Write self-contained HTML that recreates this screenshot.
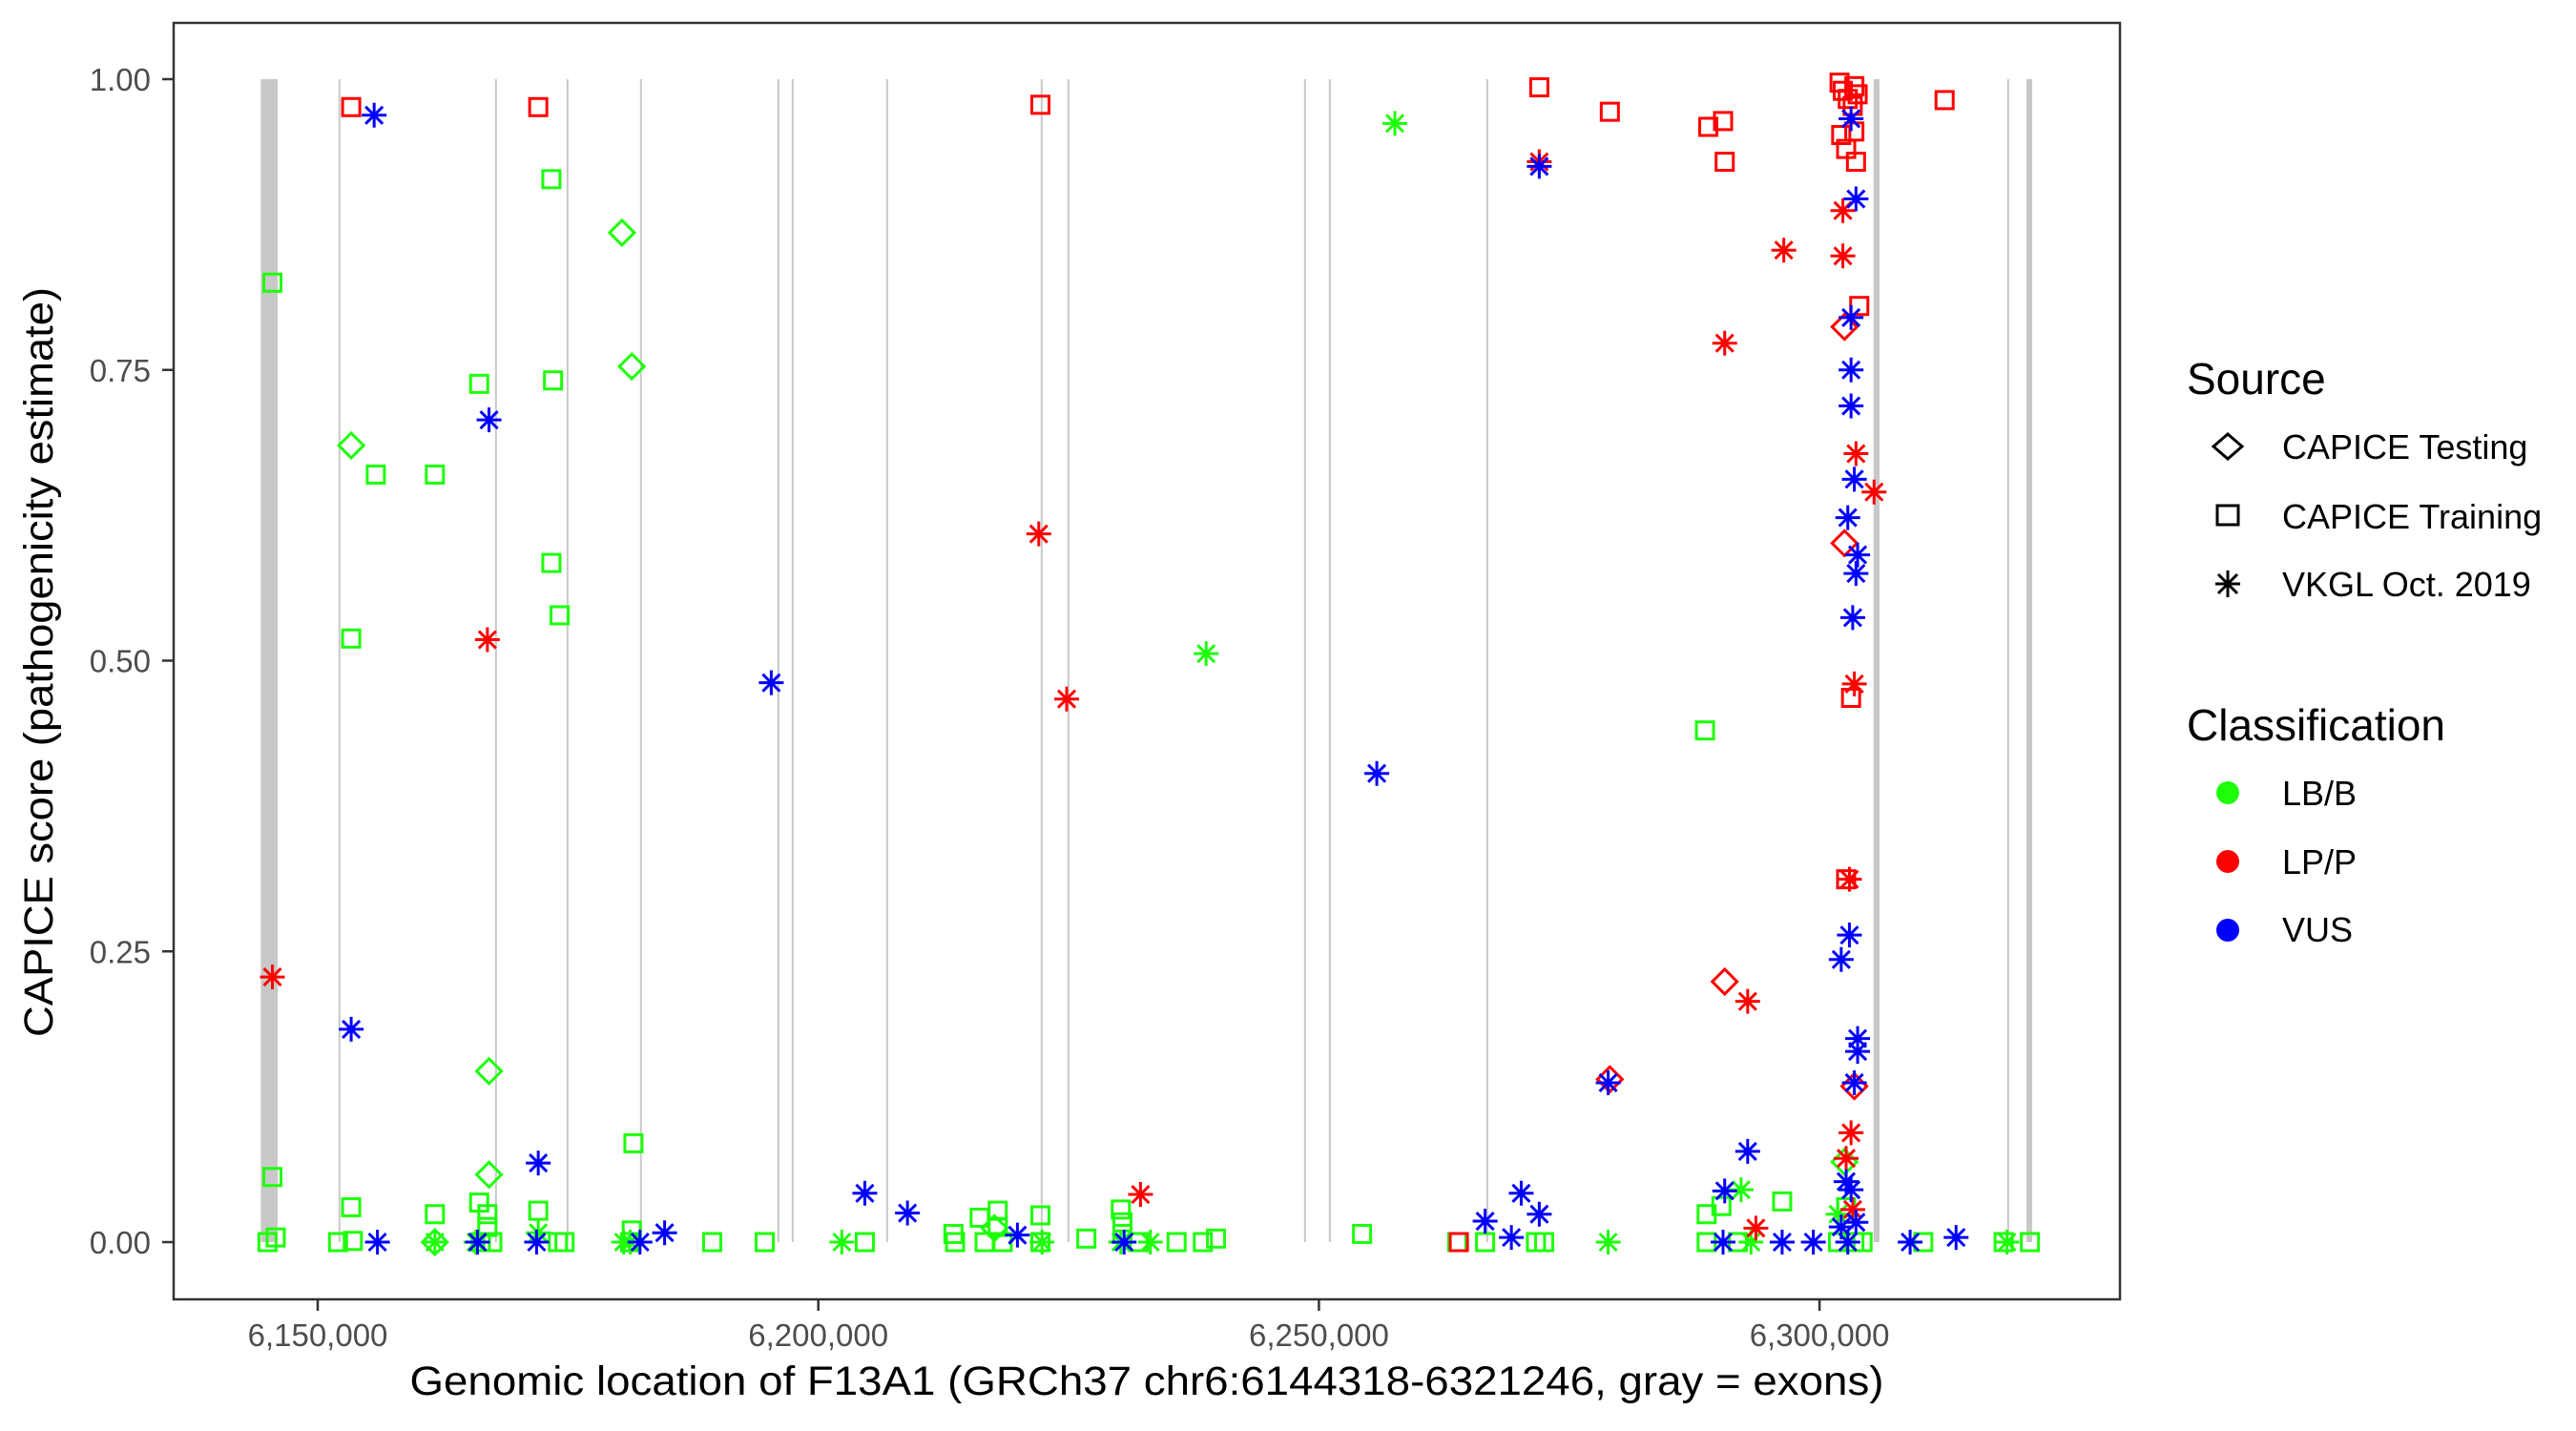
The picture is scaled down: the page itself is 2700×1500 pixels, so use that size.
<!DOCTYPE html>
<html><head><meta charset="utf-8">
<style>
html,body{margin:0;padding:0;background:#fff;}
svg{display:block;font-family:"Liberation Sans",Arial,sans-serif;}
</style></head>
<body>
<svg id="chart" xmlns="http://www.w3.org/2000/svg" width="2700" height="1500" viewBox="0 0 2700 1500">
<rect x="0" y="0" width="2700" height="1500" fill="#fff"/>
<g id="exons"></g>
<g id="points"></g>
<rect x="182" y="24" width="2040" height="1338" fill="none" stroke="#333" stroke-width="2.5"/>
<g id="axes"></g>
<text x="1202" y="1462" font-size="43" text-anchor="middle" textLength="1545" lengthAdjust="spacingAndGlyphs">Genomic location of F13A1 (GRCh37 chr6:6144318-6321246, gray = exons)</text>
<text x="0" y="0" font-size="43" text-anchor="middle" textLength="786" lengthAdjust="spacingAndGlyphs" transform="translate(55,694) rotate(-90)">CAPICE score (pathogenicity estimate)</text>
<g transform="translate(-14,0)">
<text x="2306" y="413" font-size="46">Source</text>
<path d="M2349 455 L2364 468 L2349 481 L2334 468 Z" fill="none" stroke="#000" stroke-width="3"/>
<text x="2406" y="481" font-size="36">CAPICE Testing</text>
<rect x="2338" y="530" width="22" height="20" fill="none" stroke="#000" stroke-width="3"/>
<text x="2406" y="554" font-size="36">CAPICE Training</text>
<g stroke="#000" stroke-width="3"><line x1="2349" y1="598" x2="2349" y2="626"/><line x1="2336" y1="612" x2="2362" y2="612"/><line x1="2339" y1="602" x2="2359" y2="622"/><line x1="2359" y1="602" x2="2339" y2="622"/></g>
<text x="2406" y="625" font-size="36">VKGL Oct. 2019</text>
<text x="2306" y="776" font-size="46">Classification</text>
<circle cx="2349" cy="831" r="12" fill="#1EFF0A"/>
<text x="2406" y="844" font-size="36">LB/B</text>
<circle cx="2349" cy="903" r="12" fill="#FF0000"/>
<text x="2406" y="916" font-size="36">LP/P</text>
<circle cx="2349" cy="975" r="12" fill="#0000FF"/>
<text x="2406" y="987" font-size="36">VUS</text>
</g>
</svg>
<script>
// ---- data ----
const exonStarts = [6144318, 6152150, 6167780, 6174930, 6182260, 6195990, 6197420, 6206850, 6222290, 6224950, 6248590, 6251070, 6266790, 6305400, 6318820, 6320660];
const exonEnds   = [6146000, 6152200, 6167830, 6174980, 6182310, 6196030, 6197460, 6206890, 6222330, 6225000, 6248630, 6251110, 6266830, 6305990, 6318860, 6321246];
const xTicks = [6150000, 6200000, 6250000, 6300000];
const xTickLabels = ["6,150,000", "6,200,000", "6,250,000", "6,300,000"];
const yTicks = [0, 0.25, 0.5, 0.75, 1.0];
const yTickLabels = ["0.00", "0.25", "0.50", "0.75", "1.00"];

// CAPICE Training (squares)
const trainLBpos = [6145476,6145476,6144985,6145808,6153344,6153344,6152032,6153507,6155802,6161702,6161702,6166128,6166128,6166947,6166947,6166292,6167439,6173339,6173503,6173339,6174159,6172028,6174650,6173995,6181535,6181371,6181207,6189402,6194647,6204645,6213495,6213659,6216118,6217921,6217921,6216610,6218413,6222183,6222183,6226772,6230214,6230378,6230378,6232017,6235787,6238410,6239721,6254308,6263814,6266600,6271681,6272501,6288563,6288727,6290202,6288727,6291841,6296267,6301840,6302659,6303479,6304299,6310363,6318394,6321017];
const trainLBscore = [0.825,0.056,0,0.004,0.519,0.03,0,0.001,0.66,0.66,0.024,0.738,0.034,0.024,0.013,0,0,0.914,0.741,0.584,0.539,0.027,0,0,0.085,0.01,0,0,0,0,0.007,0,0.021,0.027,0.013,0,0,0.023,0,0.003,0.028,0.017,0.007,0,0,0,0.003,0.007,0,0,0,0,0.44,0.024,0.031,0,0,0.035,0,0.03,0,0,0,0,0];
const trainLPpos = [6153344,6172028,6222183,6272009,6279057,6288891,6290366,6290530,6312494,6302004,6302332,6302823,6303315,6303479,6303807,6302168,6302659,6303643,6303479,6303971,6303151,6302659,6263978];
const trainLPscore = [0.976,0.976,0.978,0.993,0.972,0.959,0.964,0.929,0.982,0.997,0.99,0.983,0.977,0.994,0.987,0.952,0.94,0.929,0.955,0.805,0.468,0.312,0];
const trainVUSpos = [];
const trainVUSscore = [];

// CAPICE Testing (diamonds)
const testLBpos = [6153344,6180387,6181371,6167111,6167111,6161702,6217593,6302495];
const testLBscore = [0.685,0.868,0.753,0.147,0.058,0,0.012,0.069];
const testLPpos = [6302495,6302495,6290530,6279057,6303479];
const testLPscore = [0.787,0.601,0.224,0.14,0.134];

// VKGL Oct. 2019 (stars)
const vkglLBpos = [6257586,6238737,6202350,6181207,6161702,6165800,6172028,6180551,6222347,6230214,6233165,6278893,6292169,6293153,6301840,6302823,6318722];
const vkglLBscore = [0.962,0.506,0,0,0,0,0.008,0,0,0,0,0,0.045,0,0.024,0,0];
const vkglLPpos = [6145476,6166947,6222019,6224805,6272009,6290530,6296431,6302332,6302332,6303643,6305446,6303479,6292825,6302987,6303151,6302659,6232181,6293645,6303315];
const vkglLPscore = [0.228,0.518,0.609,0.467,0.929,0.773,0.853,0.848,0.887,0.678,0.645,0.48,0.207,0.312,0.094,0.072,0.041,0.012,0.028];
const vkglVUSpos = [6155638,6153344,6167111,6172028,6195302,6204645,6208906,6255783,6272009,6278893,6303151,6303643,6303151,6303151,6303151,6303479,6302823,6303807,6303643,6303315,6302168,6302987,6303807,6303807,6303479,6292825,6290530,6266600,6270206,6272009,6302659,6303151,6303643,6302168,6155966,6165964,6171864,6182190,6184649,6219888,6230542,6269223,6290366,6296267,6299381,6302823,6309052,6313641];
const vkglVUSscore = [0.969,0.183,0.707,0.068,0.481,0.042,0.025,0.403,0.925,0.137,0.966,0.897,0.795,0.75,0.719,0.656,0.623,0.591,0.575,0.537,0.243,0.264,0.175,0.164,0.137,0.078,0.044,0.018,0.042,0.024,0.052,0.045,0.017,0.013,0,0,0,0,0.008,0.006,0,0.004,0,0,0,0,0,0.004];

// ---- scales ----
const X0 = 333, PXPB = 524.7/50000;
function xs(v){ return X0 + (v - 6150000) * PXPB; }
function ys(v){ return 1302 - v * 1219; }
const NS = "http://www.w3.org/2000/svg";
function mk(tag, attrs, parent){ const e=document.createElementNS(NS,tag); for(const k in attrs) e.setAttribute(k, attrs[k]); parent.appendChild(e); return e; }

// exons
const exG = document.getElementById('exons');
for(let i=0;i<exonStarts.length;i++){
  const a = xs(exonStarts[i]), b = xs(exonEnds[i]);
  const w = Math.max(2, b - a);
  const r = mk('rect', {x: (a+b)/2 - w/2, y: ys(1), width: w, height: ys(0)-ys(1), fill: '#c8c8c8'}, exG);
  
  
}

// axes
const ax = document.getElementById('axes');
for(let i=0;i<xTicks.length;i++){
  const x = xs(xTicks[i]);
  const t = mk('line', {x1:x, y1:1362, x2:x, y2:1374, stroke:'#333', 'stroke-width':2.5}, ax);
  
  
  const l = mk('text', {x:x, y:1411, 'font-size':33, fill:'#4d4d4d', 'text-anchor':'middle'}, ax);
  
  
  l.textContent = xTickLabels[i];
}
for(let i=0;i<yTicks.length;i++){
  const y = ys(yTicks[i]);
  const t = mk('line', {x1:170, y1:y, x2:182, y2:y, stroke:'#333', 'stroke-width':2.5}, ax);
  
  
  const l = mk('text', {x:158, y:y+12, 'font-size':33, fill:'#4d4d4d', 'text-anchor':'end'}, ax);
  
  
  l.textContent = yTickLabels[i];
}

// points
const pg = document.getElementById('points');
const GREEN = '#1EFF0A', RED = '#FF0000', BLUE = '#0000FF';
function square(x,y,c){
  const e = mk('rect', {x:x-9, y:y-9, width:18, height:18, fill:'none', stroke:c, 'stroke-width':3}, pg);
  
  
}
function diamond(x,y,c){
  const e = mk('path', {d:`M${x} ${y-13} L${x+13} ${y} L${x} ${y+13} L${x-13} ${y} Z`, fill:'none', stroke:c, 'stroke-width':3}, pg);
  
  
}
function star(x,y,c){
  const d = `M${x} ${y-13}V${y+13}M${x-13} ${y}H${x+13}M${x-9} ${y-9}L${x+9} ${y+9}M${x+9} ${y-9}L${x-9} ${y+9}`;
  const e = mk('path', {d:d, fill:'none', stroke:c, 'stroke-width':3}, pg);
  
  
}
function plot(pos, sc, fn, c){ for(let i=0;i<pos.length;i++) fn(xs(pos[i]), ys(sc[i]), c); }
plot(trainLBpos, trainLBscore, square, GREEN);
plot(testLBpos, testLBscore, diamond, GREEN);
plot(vkglLBpos, vkglLBscore, star, GREEN);
plot(trainLPpos, trainLPscore, square, RED);
plot(testLPpos, testLPscore, diamond, RED);
plot(vkglLPpos, vkglLPscore, star, RED);
plot(trainVUSpos, trainVUSscore, square, BLUE);
plot(vkglVUSpos, vkglVUSscore, star, BLUE);
</script>
</body></html>
